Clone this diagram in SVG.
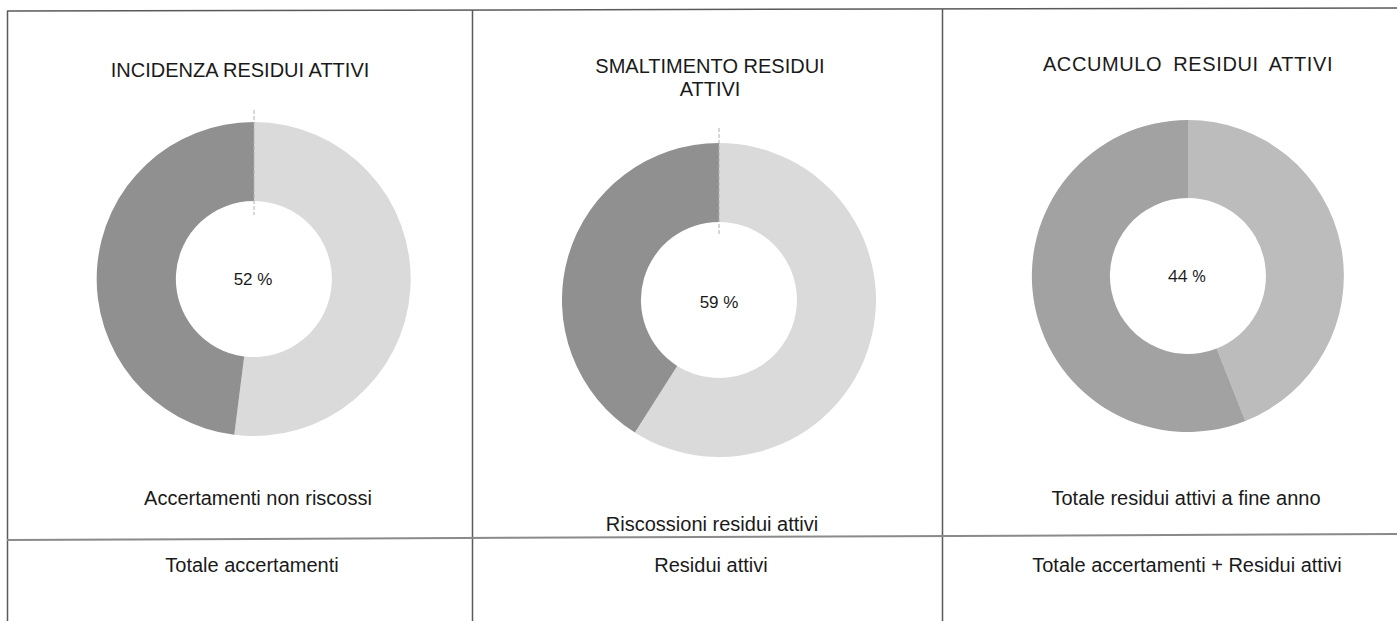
<svg xmlns="http://www.w3.org/2000/svg" width="1397" height="621" viewBox="0 0 1397 621">
<style>
.t{font-family:"Liberation Sans",Arial,sans-serif;font-size:20px;fill:#1a1a1a;text-anchor:middle}
.b{font-family:"Liberation Sans",Arial,sans-serif;font-size:20px;fill:#1a1a1a;text-anchor:middle}
.p{font-family:"Liberation Sans",Arial,sans-serif;font-size:17px;fill:#1a1a1a;text-anchor:middle}
.p2{font-family:"Open Sans","Liberation Sans",sans-serif;font-size:17px;fill:#1a1a1a;text-anchor:middle}
.grid{stroke:#5a5a5a;stroke-width:1.5;fill:none}
.row{stroke:#8a8a8a;stroke-width:2;fill:none}
.tick{stroke:#b0b0b0;stroke-width:1;stroke-dasharray:4 2;fill:none}
.l1{fill:#dadada}.d1{fill:#909090}
.l3{fill:#bcbcbc}.d3{fill:#a2a2a2}
</style>
<g id="grid">
<line class="grid" x1="7" y1="11" x2="1397" y2="8"/>
<line class="grid" x1="7.5" y1="11" x2="7.5" y2="621"/>
<line class="grid" x1="472.5" y1="10" x2="472.5" y2="621"/>
<line class="grid" x1="942.5" y1="9" x2="942.5" y2="621"/>
<line class="row" x1="7" y1="540" x2="1397" y2="534"/>
</g>
<g id="chart1">
<text class="t" x="240" y="77">INCIDENZA RESIDUI ATTIVI</text>
<path class="l1" d="M254,122 A157,157 0 1 1 234.3,434.8 L244.2,356.4 A78,78 0 1 0 254,201 Z"/>
<path class="d1" d="M234.3,434.8 A157,157 0 0 1 254,122 L254,201 A78,78 0 0 0 244.2,356.4 Z"/>
<line class="tick" x1="254" y1="110" x2="254" y2="215"/>
<text class="p" x="253" y="285">52 %</text>
<text class="b" x="258" y="505">Accertamenti non riscossi</text>
<text class="b" x="252" y="572">Totale accertamenti</text>
</g>
<g id="chart2">
<text class="t" x="710" y="73">SMALTIMENTO RESIDUI</text>
<text class="t" x="710" y="96">ATTIVI</text>
<path class="l1" d="M719,143 A157,157 0 1 1 634.9,432.6 L677.2,365.9 A78,78 0 1 0 719,222 Z"/>
<path class="d1" d="M634.9,432.6 A157,157 0 0 1 719,143 L719,222 A78,78 0 0 0 677.2,365.9 Z"/>
<line class="tick" x1="719" y1="128" x2="719" y2="235"/>
<text class="p" x="719" y="308">59 %</text>
<text class="b" x="712" y="531">Riscossioni residui attivi</text>
<text class="b" x="711" y="572">Residui attivi</text>
</g>
<g id="chart3">
<text class="t" x="1188" y="71" style="letter-spacing:0.6px;word-spacing:5px">ACCUMULO RESIDUI ATTIVI</text>
<path class="l3" d="M1188,120 A156,156 0 0 1 1245.4,421 L1216.7,348.5 A78,78 0 0 0 1188,198 Z"/>
<path class="d3" d="M1245.4,421 A156,156 0 1 1 1188,120 L1188,198 A78,78 0 1 0 1216.7,348.5 Z"/>
<text class="p2" x="1187" y="282">44 %</text>
<text class="b" x="1186" y="505">Totale residui attivi a fine anno</text>
<text class="b" x="1187" y="572">Totale accertamenti + Residui attivi</text>
</g>
</svg>
